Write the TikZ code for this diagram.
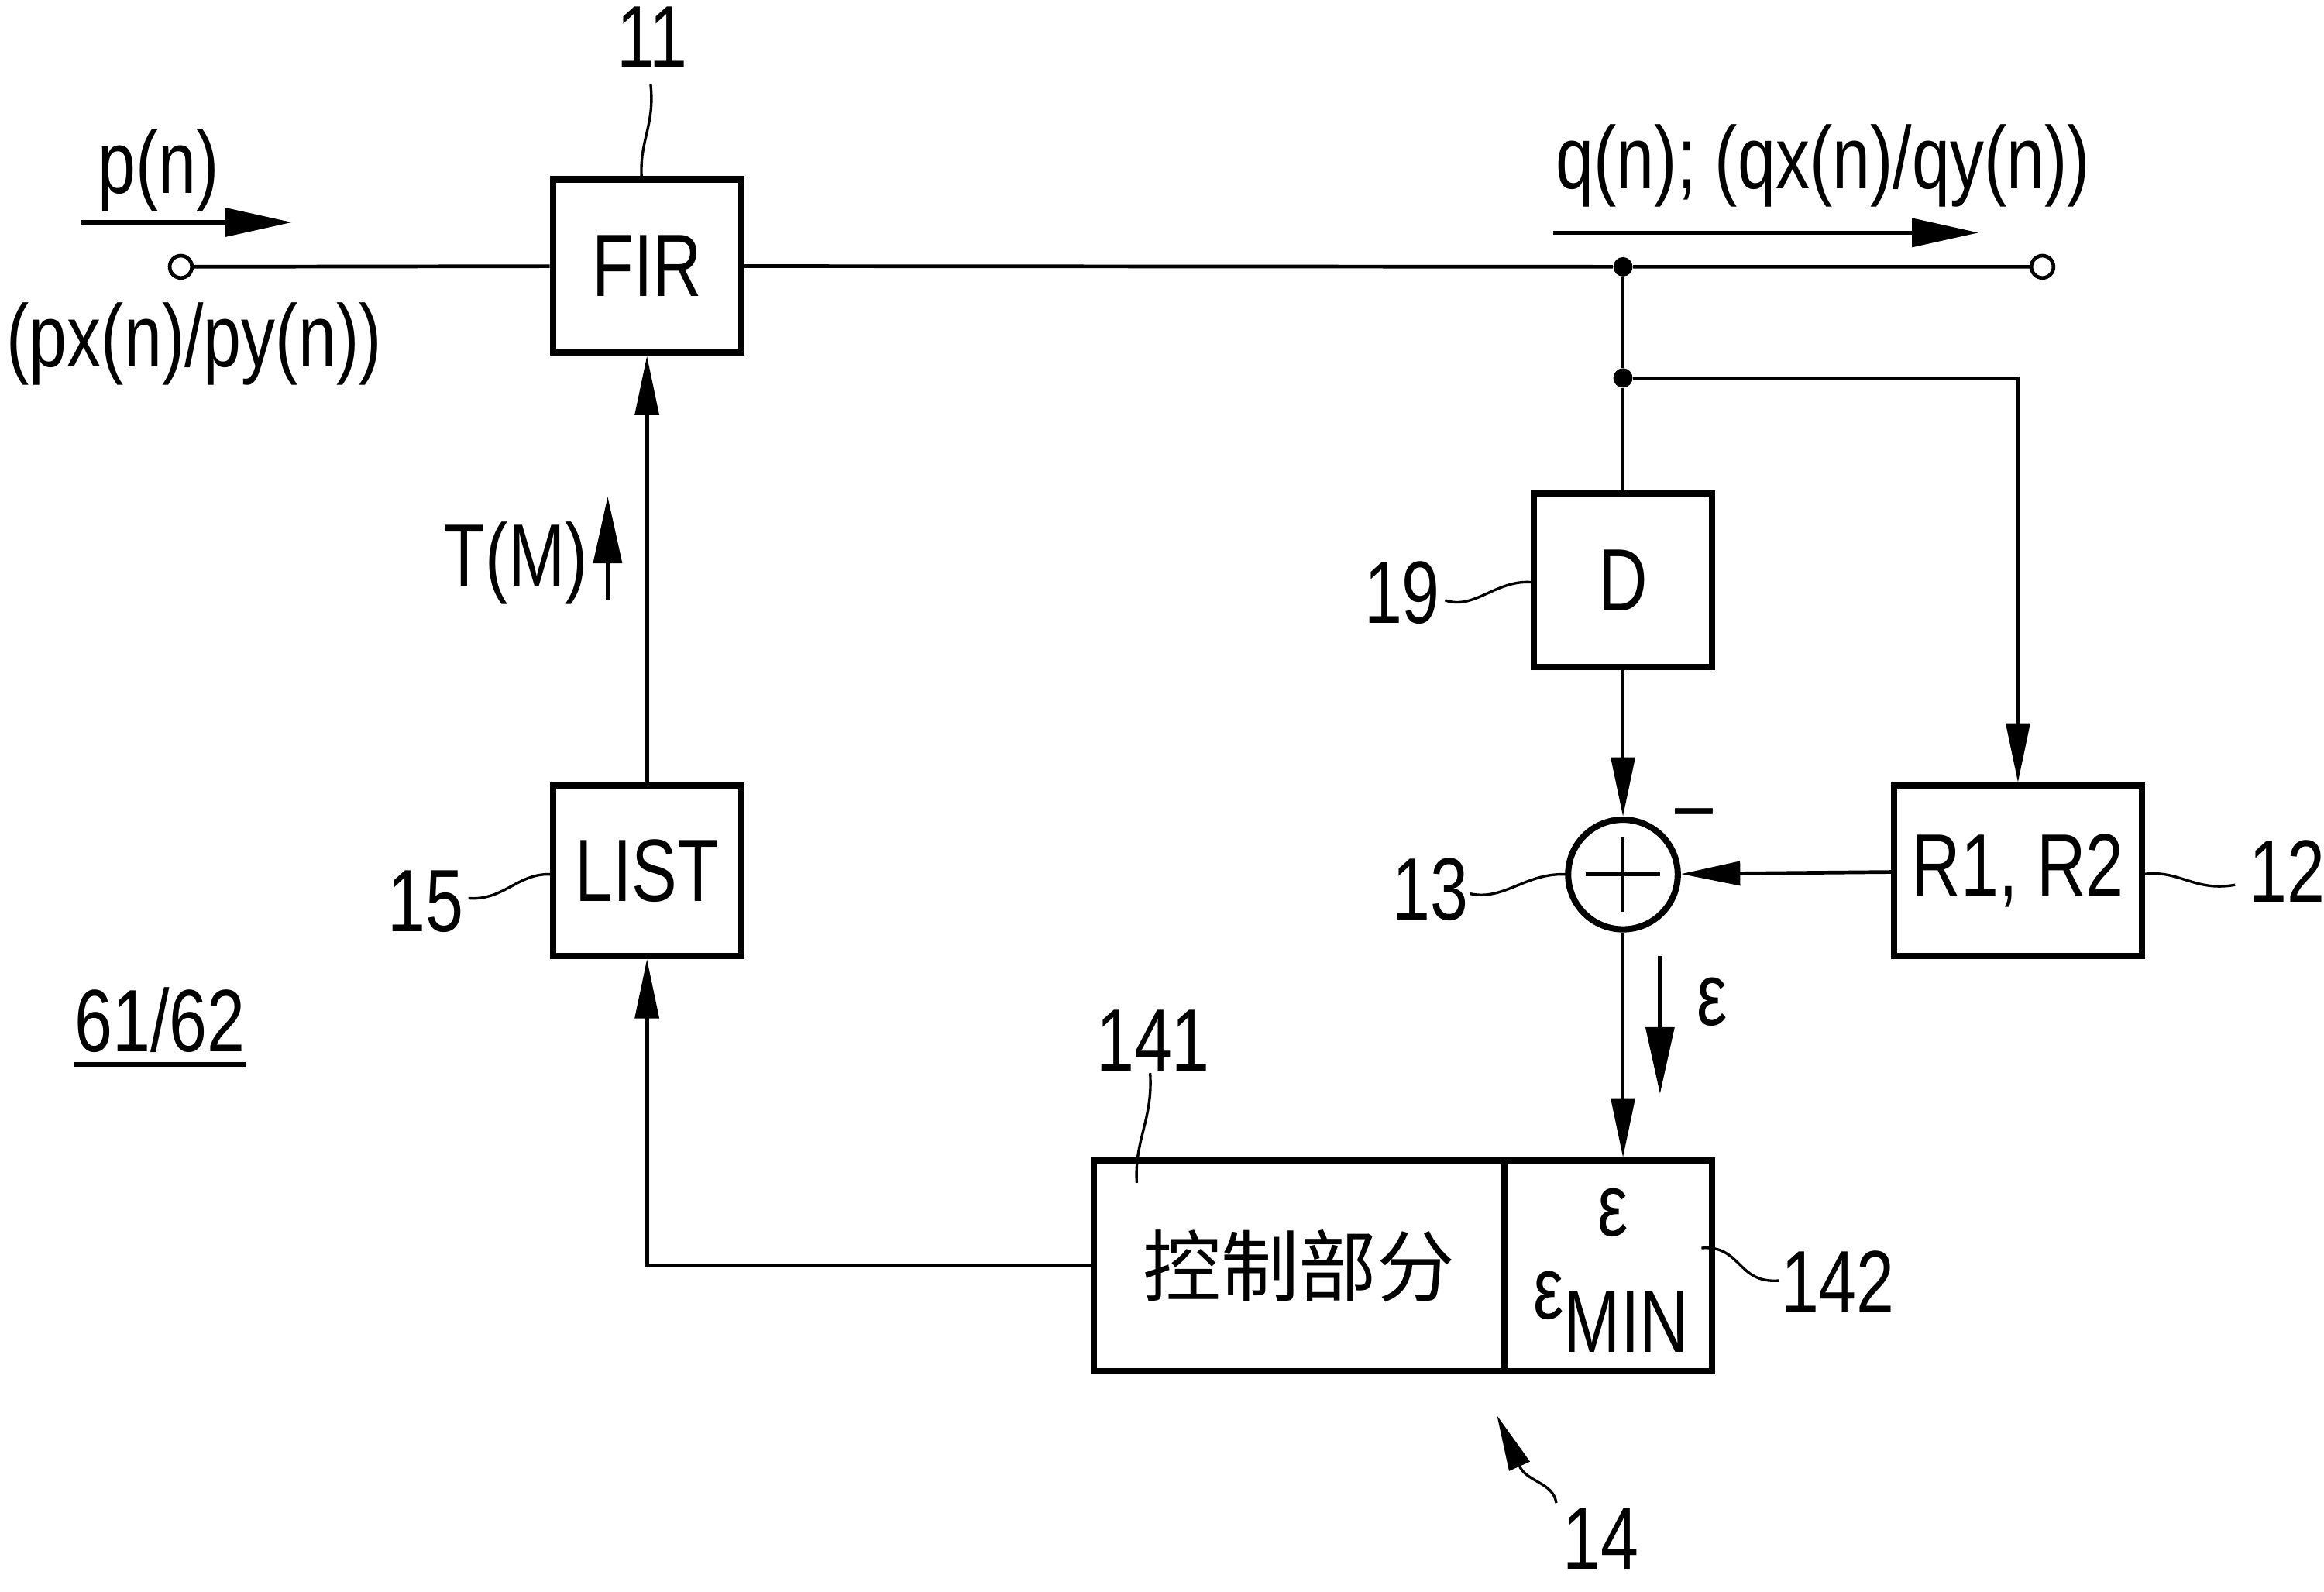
\documentclass[tikz,border=0pt]{standalone}
\usepackage{fontspec}
\setmainfont{Liberation Sans}[FakeStretch=0.77]
\newfontfamily\cjkfont{Noto Sans CJK SC}
\usetikzlibrary{arrows.meta,calc}
\newcommand\lblsize{\fontsize{34}{40}\selectfont}
\begin{document}
\begin{tikzpicture}[x=0.02cm,y=-0.02cm,
  lbl/.style={font=\lblsize, inner sep=0pt},
  blk/.style={draw, line width=2.4pt, inner sep=0pt, font=\lblsize},
  conn/.style={line width=1.4pt},
  arr/.style={conn, -{Triangle[length=0.8cm,width=0.32cm]}},
  larr/.style={line width=1.6pt, -{Triangle[length=0.9cm,width=0.38cm]}},
  lead/.style={line width=1.0pt},
  jdot/.style={circle, fill, inner sep=0pt, minimum size=0.26cm},
  term/.style={circle, draw, line width=1.4pt, inner sep=0pt, minimum size=0.3cm, fill=white},
]
\useasboundingbox (0,0) rectangle (1568,1074);
\fill[white] (0,0) rectangle (1568,1074);

% blocks
\node[blk, minimum width=2.54cm, minimum height=2.34cm] (fir) at (436.5,179.5) {FIR};
\node[blk, minimum width=2.54cm, minimum height=2.30cm] (list) at (436.5,587.5) {LIST};
\node[blk, minimum width=2.40cm, minimum height=2.34cm] (d) at (1095,391.5) {D};
\node[blk, minimum width=3.34cm, minimum height=2.30cm] (r12) at (1361.5,587.5) {R1, R2};
\node[blk, minimum width=5.54cm, minimum height=2.84cm, font=\cjkfont\fontsize{30}{36}\selectfont] (ctl) at (876.5,854) {控制部分};
\node[blk, minimum width=2.80cm, minimum height=2.84cm] (emin) at (1085,854) {};
\node[circle, draw, line width=2.4pt, inner sep=0pt, minimum size=1.48cm] (sum) at (1095,590) {};
\draw[conn] ($(sum.north)!0.18!(sum.south)$) -- ($(sum.south)!0.18!(sum.north)$);
\draw[conn] ($(sum.west)!0.18!(sum.east)$) -- ($(sum.east)!0.18!(sum.west)$);

% terminals and junctions
\node[term] (pin) at (122,180) {};
\node[term] (pout) at (1378,180) {};
\node[jdot] (j1) at (1095,180) {};
\node[jdot] (j2) at (1095,255) {};

% connectors
\draw[conn] (pin) -- (fir);
\draw[conn] (fir) -- (j1) -- (pout);
\draw[conn] (j1) -- (j2) -- (d);
\draw[arr] (j2) -| (r12.north);
\draw[arr] (d) -- (sum);
\draw[arr] (r12) -- (sum);
\draw[arr] (sum) -- (sum.south |- emin.north);
\draw[arr] (ctl.west) -| (list.south);
\draw[arr] (list) -- (fir);

% signal labels and arrows
\node[lbl] (tp) at (107,115) {p(n)};
\coordinate (pa1) at (55,150);
\coordinate (pa2) at (197,150);
\draw[larr] (pa1) -- (pa2);
\node[lbl] (tpxy) at (131,232) {(px(n)/py(n))};
\node[lbl] (tq) at (1230,112) {q(n); (qx(n)/qy(n))};
\coordinate (qa1) at (1048,157);
\coordinate (qa2) at (1335,157);
\draw[larr] (qa1) -- (qa2);
\node[lbl] (tT) at (348,380) {T(M)};
\coordinate (ta1) at (410,405);
\coordinate (ta2) at (410,335);
\draw[larr] (ta1) -- (ta2);
\node[lbl] (teps) at (1155,676) {ε};
\coordinate (ea1) at (1120,645);
\coordinate (ea2) at (1120,738);
\draw[larr] (ea1) -- (ea2);
\node[lbl] (minus) at (1143,554) {–};
\node[lbl] (e1) at (1088,818) {ε};
\node[lbl] (e2) at (1087,885) {ε\raisebox{-13pt}{MIN}};

% reference numerals and leaders
\node[lbl] (t11) at (440,25) {11};
\draw[lead] (433,121) .. controls (431,95) and (442,85) .. (439,57);
\node[lbl] (t19) at (946,400) {19};
\draw[lead] (975,405) .. controls (995,412) and (1010,390) .. (1035,393);
\node[lbl] (t13) at (965,600) {13};
\draw[lead] (992,603) .. controls (1015,608) and (1030,588) .. (1058,590);
\node[lbl] (t12) at (1543,588) {12};
\draw[lead] (1445,590) .. controls (1470,586) and (1480,602) .. (1508,597);
\node[lbl] (t15) at (287,608) {15};
\draw[lead] (316,606) .. controls (340,608) and (350,588) .. (373,590);
\node[lbl] (t141) at (778,702) {141};
\draw[lead] (767,798) .. controls (765,770) and (778,755) .. (776,724);
\node[lbl] (t142) at (1240,865) {142};
\draw[lead] (1148,842) .. controls (1175,840) and (1172,866) .. (1200,864);
\node[lbl] (t14) at (1080,1038) {14};
\draw[lead, -{Triangle[length=0.75cm,width=0.3cm]}] (1050,1014) .. controls (1048,1000) and (1030,1000) .. (1010,955);
\node[lbl] (t6162) at (108,688) {61/62};
\draw[line width=1.6pt] ([yshift=-5pt]t6162.base west) -- ([yshift=-5pt]t6162.base east);
\end{tikzpicture}
\end{document}
